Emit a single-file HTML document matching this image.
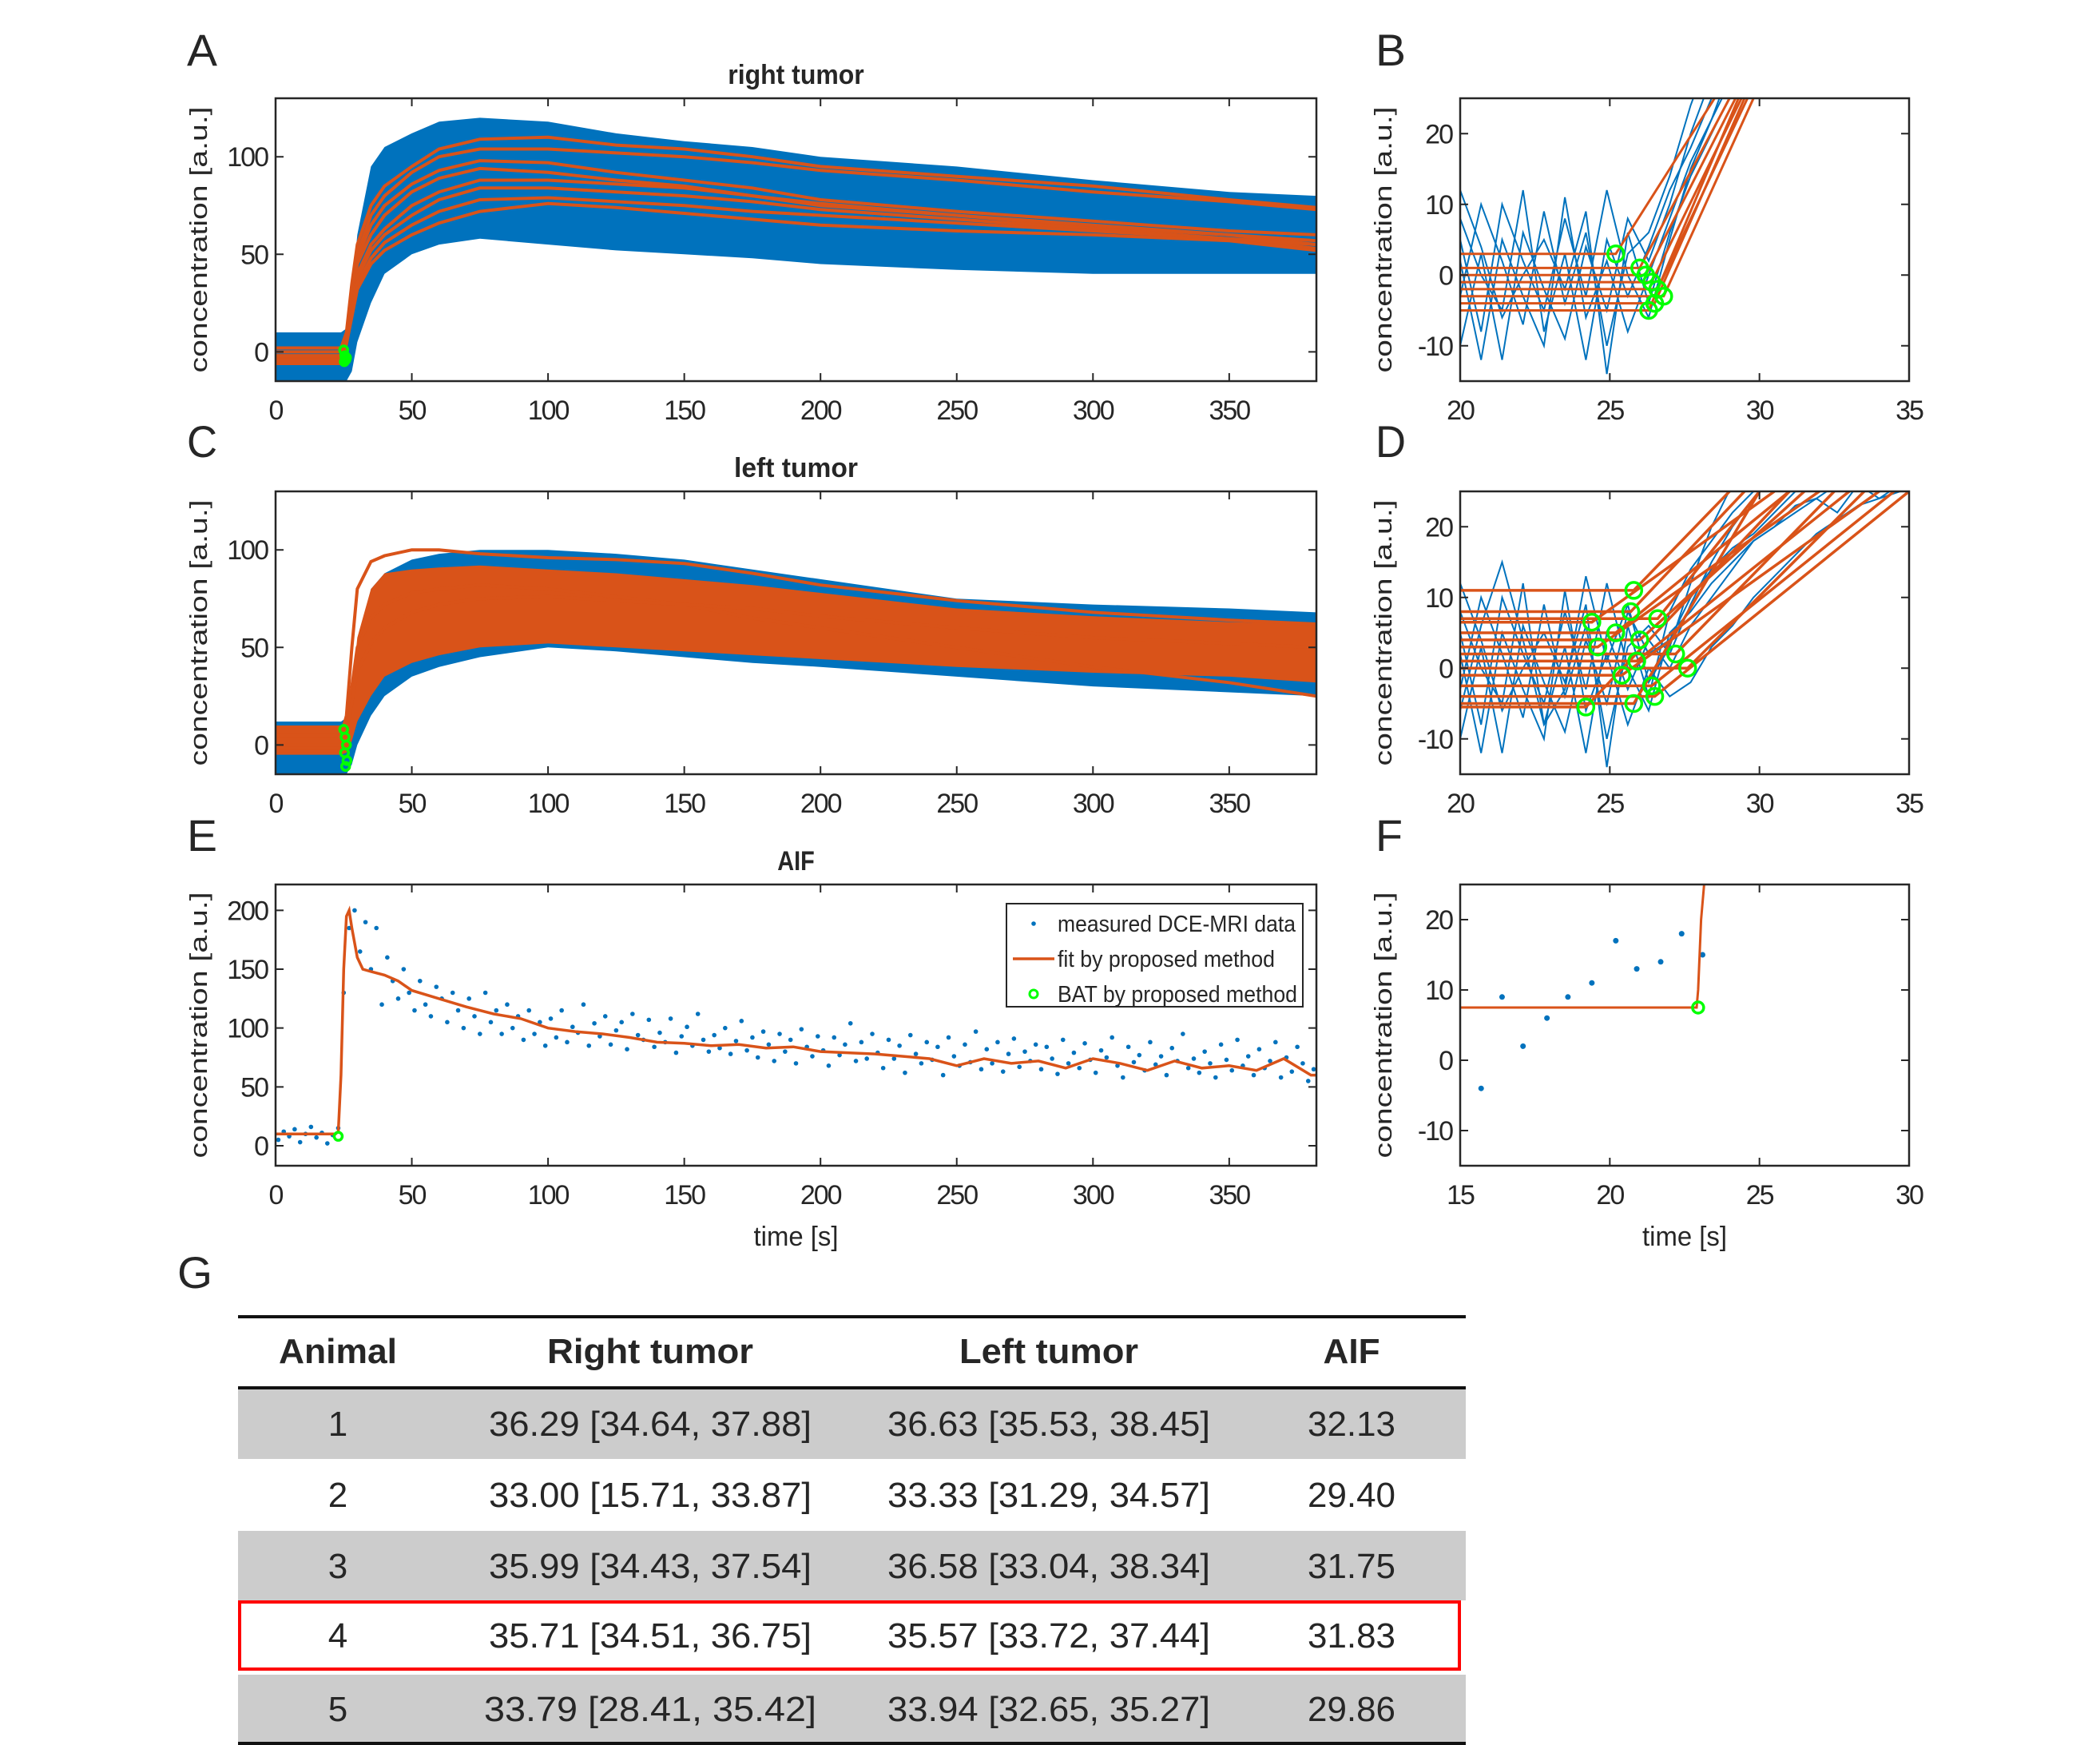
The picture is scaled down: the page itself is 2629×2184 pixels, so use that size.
<!DOCTYPE html>
<html><head><meta charset="utf-8"><style>
html,body{margin:0;padding:0;background:#fff;}
svg{display:block;}
text{font-family:"Liberation Sans",Arial,sans-serif;fill:#262626;}
</style></head><body>
<svg id="fig" width="2629" height="2184" viewBox="0 0 2629 2184" xmlns="http://www.w3.org/2000/svg">
<defs>
<clipPath id="clipA"><rect x="345" y="123" width="1303" height="354"/></clipPath>
<clipPath id="clipB"><rect x="1828" y="123" width="562" height="354"/></clipPath>
<clipPath id="clipC"><rect x="345" y="615" width="1303" height="354"/></clipPath>
<clipPath id="clipD"><rect x="1828" y="615" width="562" height="354"/></clipPath>
<clipPath id="clipE"><rect x="345" y="1107" width="1303" height="352"/></clipPath>
<clipPath id="clipF"><rect x="1828" y="1107" width="562" height="352"/></clipPath>
</defs>
<g id="plots"></g>
<g id="table">
  <rect x="298" y="1739" width="1537" height="87" fill="#cccccc"/>
  <rect x="298" y="1916" width="1537" height="87" fill="#cccccc"/>
  <rect x="298" y="2096" width="1537" height="86" fill="#cccccc"/>
  <line x1="298" y1="1648" x2="1835" y2="1648" stroke="#111" stroke-width="4"/>
  <line x1="298" y1="1737" x2="1835" y2="1737" stroke="#111" stroke-width="4"/>
  <line x1="298" y1="2182" x2="1835" y2="2182" stroke="#111" stroke-width="4"/>
  <rect x="300" y="2005" width="1527" height="84" fill="none" stroke="#ff0000" stroke-width="4"/>
  <g font-size="44" text-anchor="middle">
    <text x="423" y="1706" font-weight="bold" textLength="148" lengthAdjust="spacingAndGlyphs">Animal</text>
    <text x="814" y="1706" font-weight="bold" textLength="258" lengthAdjust="spacingAndGlyphs">Right tumor</text>
    <text x="1313" y="1706" font-weight="bold" textLength="224" lengthAdjust="spacingAndGlyphs">Left tumor</text>
    <text x="1692" y="1706" font-weight="bold" textLength="71" lengthAdjust="spacingAndGlyphs">AIF</text>

    <text x="423" y="1797">1</text>
    <text x="814" y="1797" textLength="404" lengthAdjust="spacingAndGlyphs">36.29 [34.64, 37.88]</text>
    <text x="1313" y="1797" textLength="404" lengthAdjust="spacingAndGlyphs">36.63 [35.53, 38.45]</text>
    <text x="1692" y="1797" textLength="110" lengthAdjust="spacingAndGlyphs">32.13</text>

    <text x="423" y="1886">2</text>
    <text x="814" y="1886" textLength="404" lengthAdjust="spacingAndGlyphs">33.00 [15.71, 33.87]</text>
    <text x="1313" y="1886" textLength="404" lengthAdjust="spacingAndGlyphs">33.33 [31.29, 34.57]</text>
    <text x="1692" y="1886" textLength="110" lengthAdjust="spacingAndGlyphs">29.40</text>

    <text x="423" y="1975">3</text>
    <text x="814" y="1975" textLength="404" lengthAdjust="spacingAndGlyphs">35.99 [34.43, 37.54]</text>
    <text x="1313" y="1975" textLength="404" lengthAdjust="spacingAndGlyphs">36.58 [33.04, 38.34]</text>
    <text x="1692" y="1975" textLength="110" lengthAdjust="spacingAndGlyphs">31.75</text>

    <text x="423" y="2062">4</text>
    <text x="814" y="2062" textLength="404" lengthAdjust="spacingAndGlyphs">35.71 [34.51, 36.75]</text>
    <text x="1313" y="2062" textLength="404" lengthAdjust="spacingAndGlyphs">35.57 [33.72, 37.44]</text>
    <text x="1692" y="2062" textLength="110" lengthAdjust="spacingAndGlyphs">31.83</text>

    <text x="423" y="2154">5</text>
    <text x="814" y="2154" textLength="416" lengthAdjust="spacingAndGlyphs">33.79  [28.41, 35.42]</text>
    <text x="1313" y="2154" textLength="404" lengthAdjust="spacingAndGlyphs">33.94 [32.65, 35.27]</text>
    <text x="1692" y="2154" textLength="110" lengthAdjust="spacingAndGlyphs">29.86</text>
  </g>
</g>
<g font-size="56">
  <text x="234" y="82" textLength="38" lengthAdjust="spacingAndGlyphs" fill="#000">A</text>
  <text x="1722" y="82" textLength="38" lengthAdjust="spacingAndGlyphs" fill="#000">B</text>
  <text x="234" y="572" textLength="38" lengthAdjust="spacingAndGlyphs" fill="#000">C</text>
  <text x="1722" y="572" textLength="38" lengthAdjust="spacingAndGlyphs" fill="#000">D</text>
  <text x="234" y="1065" textLength="38" lengthAdjust="spacingAndGlyphs" fill="#000">E</text>
  <text x="1722" y="1065" textLength="34" lengthAdjust="spacingAndGlyphs" fill="#000">F</text>
  <text x="222" y="1612" textLength="44" lengthAdjust="spacingAndGlyphs" fill="#000">G</text>
</g>
</svg>
<script>
// ---------- DATA ----------
const timeA = [0,24,26,28,30,35,40,50,60,75,100,125,150,175,200,250,300,350,382];
const blueUpA = [10,10,12,30,60,95,105,112,118,120,118,112,108,105,100,95,88,82,80];
const blueLoA = [-15,-15,-15,-10,5,25,40,50,55,58,55,52,50,48,45,42,40,40,40];
const fitA1 = [2,2,10,35,55,75,85,95,104,109,110,106,104,100,95,90,85,78,74];
const fitA2 = [0,0,9,32,50,70,80,92,100,104,104,102,100,97,93,88,82,77,73];
const fitA3 = [-2,-2,8,30,48,65,75,86,93,98,97,92,88,84,78,72,67,62,60];
const fitA4 = [-3,-3,7,28,45,60,70,82,89,94,92,88,85,80,75,70,64,60,57];
const fitA5 = [-4,-4,6,25,40,55,63,75,82,88,88,86,84,80,76,70,65,60,55];
const fitA6 = [-5,-5,5,22,38,52,60,70,78,84,84,82,80,77,73,68,63,58,53];
const fitA7 = [-2,-2,5,20,35,48,56,65,72,78,79,77,75,72,70,66,62,58,55];
const fitA8 = [-6,-6,4,18,32,45,52,60,66,72,76,74,71,68,65,62,60,57,52];
const batTimesA = [25,25.4,25.8,25.2,26];
const batValsA = [1,-2,-4,-5,-3];

const timeC = [0,24,26,28,30,35,40,50,60,75,100,125,150,175,200,250,300,350,382];
const blueUpC = [12,12,14,30,50,80,88,95,98,100,100,98,95,90,85,75,72,70,68];
const blueLoC = [-15,-15,-15,-10,0,15,25,35,40,45,50,48,45,42,40,35,30,27,25];
const orangeUpC = [10,10,12,28,55,80,88,90,91,92,90,88,85,82,78,70,66,63,62];
const orangeLoC = [-5,-5,-4,2,12,25,35,42,46,50,52,50,48,46,44,40,37,35,32];
const fitC1 = [5,5,15,50,80,94,97,100,100,98,96,95,93,88,82,74,68,64,62];
const fitC2 = [0,0,8,30,50,65,72,78,80,82,80,76,72,65,60,50,40,32,25];
const fitC3 = [-3,-3,6,22,38,52,60,68,72,75,76,74,72,70,66,60,55,52,50];
const batTimesC = [25,25.5,26,25.3,26.2,25.7];
const batValsC = [8,4,0,-4,-8,-11];

const timeB = [20,20.7,21.4,22.1,22.8,23.5,24.2,24.9,25.6,26.3,27.0,27.7,28.4,29.1,29.8,30.5];
const blueB1 = [5,-8,10,2,-5,8,-3,12,0,-6,5,15,22,30,35,40];
const blueB2 = [-10,3,-12,6,-2,-9,4,-5,8,2,10,20,28,35,40,45];
const blueB3 = [8,0,-5,12,-8,3,-12,5,-3,4,12,18,25,30,38,42];
const blueB4 = [-3,10,2,-7,9,-4,6,-10,3,6,14,24,32,38,45,50];
const blueB5 = [2,-12,5,-3,-10,11,-6,2,-8,0,8,16,22,28,34,40];
const blueB6 = [12,4,-6,0,5,-2,9,-14,6,-4,6,14,20,26,32,38];
const levelsB = [3,1,0,-1,-2,-3,-4,-5];
const breaksB = [25.2,26.0,26.2,26.4,26.6,26.8,26.5,26.3];
const endsB = [28.5,29,29.2,29.4,29.6,29.8,29.5,29.3];

const timeD = [20,20.7,21.4,22.1,22.8,23.5,24.2,24.9,25.6,26.3,27.0,27.7,28.4,29.1,29.8,30.5,31.2,31.9,32.6,33.3,34.0,34.7];
const blueD1 = [5,-8,10,2,-5,8,-3,12,0,-6,5,8,12,15,18,20,22,24,26,28,30,32];
const blueD2 = [-10,3,-12,6,-2,-9,4,-5,8,2,4,10,14,17,19,22,25,27,29,31,33,35];
const blueD3 = [8,0,-5,12,-8,3,-12,5,-3,4,0,6,10,14,18,20,23,24,22,26,24,26];
const blueD4 = [-3,10,2,-7,9,-4,6,-10,3,6,2,9,15,20,24,28,30,32,34,36,38,40];
const blueD5 = [2,-12,5,-3,-10,11,-6,2,-8,0,-4,-2,3,6,10,13,16,19,21,23,24,25];
const blueD6 = [12,4,-6,0,5,-2,9,-14,6,-4,8,14,18,22,25,28,30,32,34,36,38,40];
const blueD7 = [-6,6,15,4,-8,-3,13,1,9,-2,3,12,20,26,30,34,36,38,40,42,44,46];
const levelsD = [11,8,7,6.5,5,4,3,2,1,0,-1,-2.5,-4,-5,-5.5];
const breaksD = [25.8,25.7,26.6,24.4,25.2,26.0,24.6,27.2,25.9,27.6,25.4,26.4,26.5,25.8,24.2];
const endsD = [29,29.5,30,30.5,31,31.5,32,32.5,33,33.5,34,34.5,35,30,31];

const aifTimes = [1,3,5,7,9,11,13,15,17,19,21,23,25,27,29,31,33,35,37,39,41,43,45,47,49,51,53,55,57,59,61,63,65,67,69,71,73,75,77,79,81,83,85,87,89,91,93,95,97,99];
const aifVals = [5,12,8,14,3,10,16,7,11,2,9,15,130,185,200,165,190,150,185,120,160,140,125,150,130,115,140,120,110,135,125,105,130,115,100,125,110,95,130,105,115,95,120,100,110,90,115,95,105,85];
const aifVals2 = [108,92,115,88,101,96,120,85,104,93,110,86,98,105,82,112,94,90,107,84,96,88,108,79,93,101,85,112,90,80,94,83,100,78,89,106,81,92,75,97,86,72,95,80,90,70,99,84,76,93,81,68,92,77,86,104,72,88,74,95,79,66,90,74,85,62,94,78,70,88,73,84,60,92,76,68,86,71,97,65,82,70,88,63,78,91,67,80,72,86,65,84,74,61,90,70,79,66,87,73,62,81,75,92,68,58,84,71,77,64,88,69,76,60,83,72,95,66,74,62,80,70,58,86,73,64,90,68,76,60,82,66,72,88,58,75,63,84,70,55,65];
const fitTimesE = [0,22,23,24,25,26,27,28,30,32,35,40,45,50,60,70,80,90,100,110,120,130,140,150,160,170,180,190,200,210,220,230,240,250,260,270,280,290,300,310,320,330,340,350,360,370,380,382];
const fitValsE = [10,10,12,60,150,195,200,185,160,150,148,145,140,132,125,118,112,108,100,97,95,92,88,87,85,86,83,84,80,79,78,76,74,68,74,70,72,66,74,70,64,72,66,68,64,74,60,60];

const scatterTimesF = [15.7,16.4,17.1,17.9,18.6,19.4,20.2,20.9,21.7,22.4,23.1];
const scatterValsF = [-4,9,2,6,9,11,17,13,14,18,15];
const fitTimesF = [15,22.9,22.95,23.05,23.15];
const fitValsF = [7.5,7.5,10,20,25];

const xTicksLong = [0,50,100,150,200,250,300,350];
const yTicksTumor = [0,50,100];
const yTicksAIF = [0,50,100,150,200];
const yTicksZoom = [-10,0,10,20];
const xTicksZoom = [20,25,30,35];
const xTicksF = [15,20,25,30];

// ---------- DRAW ----------
const NS = 'http://www.w3.org/2000/svg';
const root = document.getElementById('plots');
const BLUE = '#0072BD', ORANGE = '#D95319', GREEN = '#00FF00';
function mk(tag, attrs, parent) {
  const el = document.createElementNS(NS, tag);
  for (const k in attrs) el.setAttribute(k, attrs[k]);
  (parent || root).appendChild(el);
  return el;
}
function makePanel(id, x0, x1, y0, y1, xr, yr) {
  return {id, x0, x1, y0, y1, xr, yr,
    sx: v => x0 + (v - xr[0]) / (xr[1] - xr[0]) * (x1 - x0),
    sy: v => y1 - (v - yr[0]) / (yr[1] - yr[0]) * (y1 - y0)};
}
function pathD(p, ts, vs) {
  return ts.map((t, i) => (i ? 'L' : 'M') + p.sx(t).toFixed(1) + ',' + p.sy(vs[i]).toFixed(1)).join('');
}
function bandD(p, ts, up, lo) {
  let d = pathD(p, ts, up);
  for (let i = ts.length - 1; i >= 0; i--) d += 'L' + p.sx(ts[i]).toFixed(1) + ',' + p.sy(lo[i]).toFixed(1);
  return d + 'Z';
}
function axes(p, xt, yt, title, xlabel) {
  const g = mk('g', {});
  
  
  const box = mk('rect', {x: p.x0, y: p.y0, width: p.x1 - p.x0, height: p.y1 - p.y0, fill: 'none', stroke: '#262626', 'stroke-width': 2.5}, g);
  
  
  xt.forEach(v => {
    const x = p.sx(v);
    const tk = mk('path', {d: `M${x},${p.y1}v-10M${x},${p.y0}v10`, stroke: '#262626', 'stroke-width': 2}, g);
    
    
    const lb = mk('text', {x: x, y: p.y1 + 48, 'font-size': 34, 'text-anchor': 'middle', 'letter-spacing': -2}, g);
    lb.textContent = v;
    
    
  });
  yt.forEach(v => {
    const y = p.sy(v);
    const tk = mk('path', {d: `M${p.x0},${y}h10M${p.x1},${y}h-10`, stroke: '#262626', 'stroke-width': 2}, g);
    
    
    const lb = mk('text', {x: p.x0 - 10, y: y + 12, 'font-size': 34, 'text-anchor': 'end', 'letter-spacing': -2}, g);
    lb.textContent = v;
    
    
  });
  const cy = (p.y0 + p.y1) / 2;
  const yl = mk('text', {x: 0, y: 0, 'font-size': 31, 'text-anchor': 'middle', textLength: 333, lengthAdjust: 'spacingAndGlyphs', transform: `translate(${p.x0 - 86},${cy}) rotate(-90)`}, g);
  yl.textContent = 'concentration [a.u.]';
  
  
  if (title) {
    const t = mk('text', {x: (p.x0 + p.x1) / 2, y: p.y0 - 18, 'font-size': 34, 'font-weight': 'bold', 'text-anchor': 'middle', textLength: title.length * 15.5, lengthAdjust: 'spacingAndGlyphs', fill: '#000'}, g);
    t.textContent = title;
    
    
  }
  if (xlabel) {
    const t = mk('text', {x: (p.x0 + p.x1) / 2, y: p.y1 + 100, 'font-size': 34, 'text-anchor': 'middle', textLength: 106, lengthAdjust: 'spacingAndGlyphs'}, g);
    t.textContent = 'time [s]';
    
    
  }
}
function layer(p) {
  const g = mk('g', {'clip-path': `url(#clip${p.id})`});
  
  
  return g;
}
function circle(p, g, t, v, r) {
  const c = mk('circle', {cx: p.sx(t), cy: p.sy(v), r: r, fill: 'none', stroke: GREEN, 'stroke-width': 3.5}, g);
  
  
}

// Panel A
const pA = makePanel('A', 345, 1648, 123, 477, [0, 382], [-15, 130]);
{
  const g = layer(pA);
  const band = mk('path', {d: bandD(pA, timeA, blueUpA, blueLoA), fill: BLUE}, g);
  
  
  [fitA1, fitA2, fitA3, fitA4, fitA5, fitA6, fitA7, fitA8].forEach(f => {
    const l = mk('path', {d: pathD(pA, timeA, f), fill: 'none', stroke: ORANGE, 'stroke-width': 4}, g);
    
    
  });
  batTimesA.forEach((t, i) => circle(pA, g, t, batValsA[i], 5));
}
axes(pA, xTicksLong, yTicksTumor, 'right tumor', false);

// Panel C
const pC = makePanel('C', 345, 1648, 615, 969, [0, 382], [-15, 130]);
{
  const g = layer(pC);
  const band = mk('path', {d: bandD(pC, timeC, blueUpC, blueLoC), fill: BLUE}, g);
  
  
  const ob = mk('path', {d: bandD(pC, timeC, orangeUpC, orangeLoC), fill: ORANGE}, g);
  
  
  [fitC1, fitC2, fitC3].forEach(f => {
    const l = mk('path', {d: pathD(pC, timeC, f), fill: 'none', stroke: ORANGE, 'stroke-width': 4}, g);
    
    
  });
  batTimesC.forEach((t, i) => circle(pC, g, t, batValsC[i], 5));
}
axes(pC, xTicksLong, yTicksTumor, 'left tumor', false);

// Panel B
const pB = makePanel('B', 1828, 2390, 123, 477, [20, 35], [-15, 25]);
{
  const g = layer(pB);
  [blueB1, blueB2, blueB3, blueB4, blueB5, blueB6].forEach(b => {
    const l = mk('path', {d: pathD(pB, timeB, b), fill: 'none', stroke: BLUE, 'stroke-width': 2}, g);
    
    
  });
  levelsB.forEach((lv, i) => {
    const l = mk('path', {d: pathD(pB, [20, breaksB[i], endsB[i]], [lv, lv, 25]), fill: 'none', stroke: ORANGE, 'stroke-width': 3}, g);
    
    
  });
  levelsB.forEach((lv, i) => circle(pB, g, breaksB[i], lv, 10));
}
axes(pB, xTicksZoom, yTicksZoom, null, false);

// Panel D
const pD = makePanel('D', 1828, 2390, 615, 969, [20, 35], [-15, 25]);
{
  const g = layer(pD);
  [blueD1, blueD2, blueD3, blueD4, blueD5, blueD6, blueD7].forEach(b => {
    const l = mk('path', {d: pathD(pD, timeD, b), fill: 'none', stroke: BLUE, 'stroke-width': 2}, g);
    
    
  });
  levelsD.forEach((lv, i) => {
    const l = mk('path', {d: pathD(pD, [20, breaksD[i], endsD[i]], [lv, lv, 25]), fill: 'none', stroke: ORANGE, 'stroke-width': 3.5}, g);
    
    
  });
  levelsD.forEach((lv, i) => circle(pD, g, breaksD[i], lv, 10));
}
axes(pD, xTicksZoom, yTicksZoom, null, false);

// Panel E
const pE = makePanel('E', 345, 1648, 1107, 1459, [0, 382], [-17, 222]);
{
  const g = layer(pE);
  const allT = aifTimes.concat(aifVals2.map((v, i) => 101 + 2 * i));
  const allV = aifVals.concat(aifVals2);
  allT.forEach((t, i) => {
    const d = mk('circle', {cx: pE.sx(t), cy: pE.sy(allV[i]), r: 2.8, fill: BLUE}, g);
    
    
  });
  const l = mk('path', {d: pathD(pE, fitTimesE, fitValsE), fill: 'none', stroke: ORANGE, 'stroke-width': 3.5}, g);
  
  
  circle(pE, g, 23, 8, 5);
}
axes(pE, xTicksLong, yTicksAIF, 'AIF', true);
{
  const lg = mk('g', {});
  
  
  mk('rect', {x: 1260, y: 1131, width: 371, height: 129, fill: '#fff', stroke: '#262626', 'stroke-width': 2}, lg);
  const e1 = mk('circle', {cx: 1294, cy: 1156, r: 2.8, fill: BLUE}, lg);
  
  
  const e2 = mk('line', {x1: 1268, y1: 1200, x2: 1320, y2: 1200, stroke: ORANGE, 'stroke-width': 3.5}, lg);
  
  
  const e3 = mk('circle', {cx: 1294, cy: 1244, r: 5, fill: 'none', stroke: GREEN, 'stroke-width': 3}, lg);
  
  
  const labels = ['measured DCE-MRI data', 'fit by proposed method', 'BAT by proposed method'];
  const lens = [298, 272, 300];
  labels.forEach((s, i) => {
    const t = mk('text', {x: 1324, y: 1166 + 44 * i, 'font-size': 29, textLength: lens[i], lengthAdjust: 'spacingAndGlyphs', fill: '#000'}, lg);
    t.textContent = s;
    
    
  });
}

// Panel F
const pF = makePanel('F', 1828, 2390, 1107, 1459, [15, 30], [-15, 25]);
{
  const g = layer(pF);
  scatterTimesF.forEach((t, i) => {
    const d = mk('circle', {cx: pF.sx(t), cy: pF.sy(scatterValsF[i]), r: 3.5, fill: BLUE}, g);
    
    
  });
  const l = mk('path', {d: pathD(pF, fitTimesF, fitValsF), fill: 'none', stroke: ORANGE, 'stroke-width': 3}, g);
  
  
  circle(pF, g, 22.95, 7.5, 7);
}
axes(pF, xTicksF, yTicksZoom, null, true);
</script>
</body></html>
